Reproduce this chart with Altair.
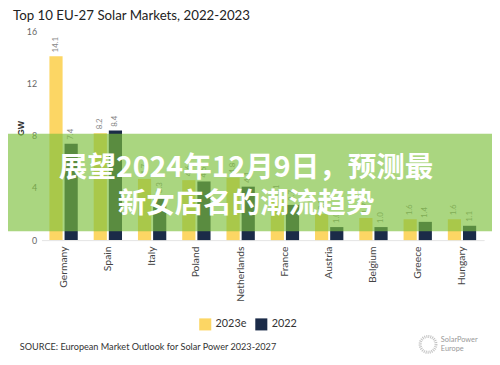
import altair as alt
import pandas as pd

countries = ["Germany", "Spain", "Italy", "Poland", "Netherlands",
             "France", "Austria", "Belgium", "Greece", "Hungary"]
v2023e = [14.1, 8.2, 4.7, 4.6, 4.8, 3.1, 2.0, 1.7, 1.6, 1.6]
v2022 = [7.4, 8.4, 3.3, 4.5, 4.1, 2.7, 1.0, 1.0, 1.4, 1.1]
series = ["2023e", "2022"]
colors = ["#fcd664", "#1b2b48"]

title_text = "Top 10 EU-27 Solar Markets, 2022-2023"
source_text = "SOURCE: European Market Outlook for Solar Power 2023-2027"
banner_line1 = "展望2024年12月9日，预测最"
banner_line2 = "新女店名的潮流趋势"
logo_lines = ["SolarPower", "Europe"]

rows = []
for c, a, b in zip(countries, v2023e, v2022):
    rows.append({"country": c, "series": "2023e", "value": a, "label": f"{a:.1f}"})
    rows.append({"country": c, "series": "2022", "value": b, "label": f"{b:.1f}"})
df = pd.DataFrame(rows)

x_enc = alt.X("country:N", sort=countries,
              scale=alt.Scale(paddingInner=0.36, paddingOuter=0.18),
              axis=alt.Axis(title=None, labelAngle=270, labelAlign="right",
                            labelBaseline="middle", labelFontSize=10.5,
                            labelColor="#444", labelPadding=6, ticks=False,
                            domain=True, domainColor="#e3e3e3", labelFont="Lato"))
xo_enc = alt.XOffset("series:N", sort=series, scale=alt.Scale(paddingInner=0.13))
y_enc = alt.Y("value:Q", scale=alt.Scale(domain=[0, 16]),
              axis=alt.Axis(values=list(range(0, 17, 2)), grid=False, domain=False,
                            ticks=False, labelFontSize=9, labelColor="#666",
                            labelPadding=5, title="GW", titleAngle=270,
                            titleFontSize=9, titleColor="#333", titleFontWeight="bold",
                            titleX=-16, titleY=98, labelFont="Lato"))
color_enc = alt.Color("series:N", sort=series,
                      scale=alt.Scale(domain=series, range=colors),
                      legend=alt.Legend(title=None, orient="none", legendX=160,
                                        legendY=291, direction="horizontal",
                                        symbolType="square", symbolSize=150,
                                        symbolStrokeWidth=0, labelFontSize=11,
                                        labelColor="#333", columnPadding=8,
                                        labelFont="Lato"))

bars = alt.Chart(df).mark_bar().encode(x=x_enc, xOffset=xo_enc, y=y_enc, color=color_enc)
labels = alt.Chart(df).mark_text(angle=270, align="left", baseline="middle", dx=4,
                                 fontSize=8, color="#888", font="Lato").encode(
    x=alt.X("country:N", sort=countries), xOffset=alt.XOffset("series:N", sort=series),
    y="value:Q", text="label:N")

banner = alt.Chart(pd.DataFrame({"a": [0]})).mark_rect(color="#7dc03c", opacity=0.65).encode(
    x=alt.value(-34), x2=alt.value(458), y=alt.value(104), y2=alt.value(203))


def text_layer(txt, xv, yv, **kw):
    return alt.Chart(pd.DataFrame({"t": [txt]})).mark_text(**kw).encode(
        x=alt.value(xv), y=alt.value(yv), text="t:N")


banner_kw = dict(fontSize=29, fontWeight="bold", color="white",
                 font="Noto Sans CJK SC", align="center", baseline="middle")
b1 = text_layer(banner_line1, 208, 139, **banner_kw)
b2 = text_layer(banner_line2, 208, 175, **banner_kw)

title = text_layer(title_text, -29, -16, fontSize=13.5, color="#222", font="Lato",
                   align="left", baseline="middle")
source = text_layer(source_text, -22, 321, fontSize=9.3, color="#333", font="Lato",
                    align="left", baseline="middle")

logo_ring = alt.Chart(pd.DataFrame({"a": [0]})).mark_point(
    shape="circle", size=260, color="#aaa", strokeWidth=3, strokeDash=[1, 1]).encode(
    x=alt.value(393), y=alt.value(318))
logo_kw = dict(fontSize=7.5, color="#999", font="Lato", align="left", baseline="middle")
l1 = text_layer(logo_lines[0], 406, 314, **logo_kw)
l2 = text_layer(logo_lines[1], 406, 323, **logo_kw)

chart = alt.layer(bars, labels, banner, b1, b2, title, source, logo_ring, l1, l2).properties(
    width=450, height=212,
    autosize=alt.AutoSizeParams(type="none"),
    padding={"left": 34, "top": 21, "right": 8, "bottom": 124},
).configure_view(stroke=None)

chart.save("out.html", embed_options={"renderer": "svg", "actions": False})
